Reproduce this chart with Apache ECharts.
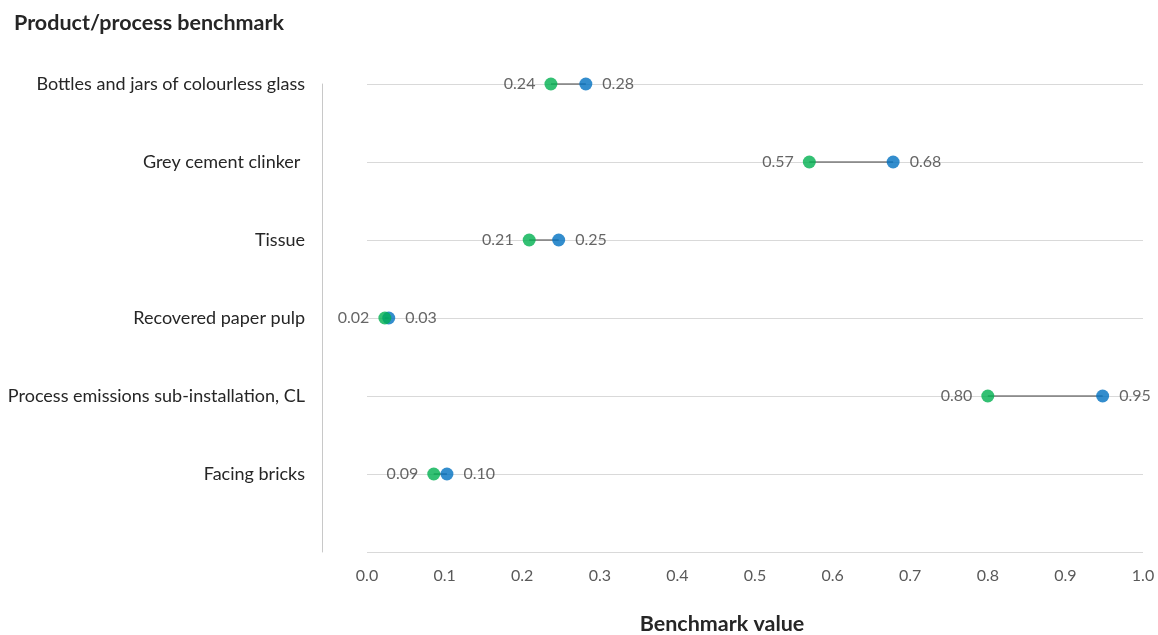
<!DOCTYPE html>
<html>
<head>
<meta charset="utf-8">
<script src="https://cdn.jsdelivr.net/npm/echarts@6/dist/echarts.min.js"></script>
<style>
  html, body { margin: 0; padding: 0; background: #fff; }
  #chart { width: 1158px; height: 635px; }
</style>
</head>
<body>
<div id="chart"></div>
<script>
// Product/process benchmarks, top to bottom
const categories = [
  'Bottles and jars of colourless glass',
  'Grey cement clinker ',
  'Tissue',
  'Recovered paper pulp',
  'Process emissions sub-installation, CL',
  'Facing bricks'
];
// Lower benchmark value (green) and higher benchmark value (blue)
const lowValues  = [0.237, 0.570, 0.209, 0.023, 0.800, 0.086];
const highValues = [0.282, 0.678, 0.247, 0.028, 0.948, 0.103];
const xTicks = [0, 0.1, 0.2, 0.3, 0.4, 0.5, 0.6, 0.7, 0.8, 0.9, 1.0];

const GREEN = '#00B050';
const BLUE = '#0070C0';
const FONT = 'Lato, "Open Sans", sans-serif';

// Row position: first category at the top (n), last one at 1, empty row at 0
const n = categories.length;
const rowOf = i => n - i;

const lowPts = lowValues.map((v, i) => [v, rowOf(i)]);
const highPts = highValues.map((v, i) => [v, rowOf(i)]);
const pairs = categories.map((c, i) => [lowValues[i], highValues[i], rowOf(i)]);

const chart = echarts.init(document.getElementById('chart'), null, { renderer: 'canvas' });

chart.setOption({
  animation: false,
  backgroundColor: '#ffffff',
  textStyle: { fontFamily: FONT },
  title: {
    text: 'Product/process benchmark',
    left: 9,
    top: 7,
    textStyle: { fontFamily: FONT, fontSize: 21.5, fontWeight: 'bold', color: '#262626' }
  },
  grid: {
    left: 367, right: 15, top: 84, bottom: 83,
    containLabel: false,
    outerBoundsMode: 'none'
  },
  xAxis: {
    type: 'value',
    min: xTicks[0],
    max: xTicks[xTicks.length - 1],
    interval: 0.1,
    name: 'Benchmark value',
    nameLocation: 'middle',
    nameGap: 61,
    nameTextStyle: {
      fontFamily: FONT, fontSize: 21.5, fontWeight: 'bold', color: '#262626',
      padding: [0, 66, 0, 0]
    },
    axisLine: { show: false },
    axisTick: { show: false },
    splitLine: { show: false },
    axisLabel: {
      margin: 16,
      fontSize: 16,
      color: '#595959',
      fontFamily: FONT,
      formatter: v => v.toFixed(1)
    }
  },
  yAxis: {
    type: 'value',
    min: 0,
    max: n,
    interval: 1,
    offset: 45,
    axisLine: { show: true, onZero: false, lineStyle: { color: '#c8c8c8', width: 1 } },
    axisTick: { show: false },
    splitLine: { show: true, lineStyle: { color: '#d9d9d9', width: 1 } },
    axisLabel: {
      margin: 17,
      fontSize: 18,
      color: '#262626',
      fontFamily: FONT,
      formatter: v => {
        const idx = n - Math.round(v);
        return (v > 0 && idx >= 0 && idx < n) ? categories[idx] : '';
      }
    }
  },
  series: [
    {
      // connector between the two benchmark values of each row
      type: 'custom',
      silent: true,
      z: 1,
      data: pairs,
      renderItem: (params, api) => {
        const a = api.coord([api.value(0), api.value(2)]);
        const b = api.coord([api.value(1), api.value(2)]);
        return {
          type: 'line',
          shape: { x1: a[0], y1: a[1], x2: b[0], y2: b[1] },
          style: { stroke: '#404040', lineWidth: 1 }
        };
      }
    },
    {
      type: 'scatter',
      z: 3,
      symbolSize: 13,
      itemStyle: { color: BLUE },
      data: highPts,
      label: {
        show: true,
        position: 'right',
        distance: 10,
        fontSize: 16,
        color: '#404040',
        fontFamily: FONT,
        formatter: p => p.value[0].toFixed(2)
      }
    },
    {
      type: 'scatter',
      z: 4,
      symbolSize: 13,
      itemStyle: { color: GREEN },
      data: lowPts,
      label: {
        show: true,
        position: 'left',
        distance: 9,
        fontSize: 16,
        color: '#404040',
        fontFamily: FONT,
        formatter: p => p.value[0].toFixed(2)
      }
    }
  ]
});
</script>
</body>
</html>
